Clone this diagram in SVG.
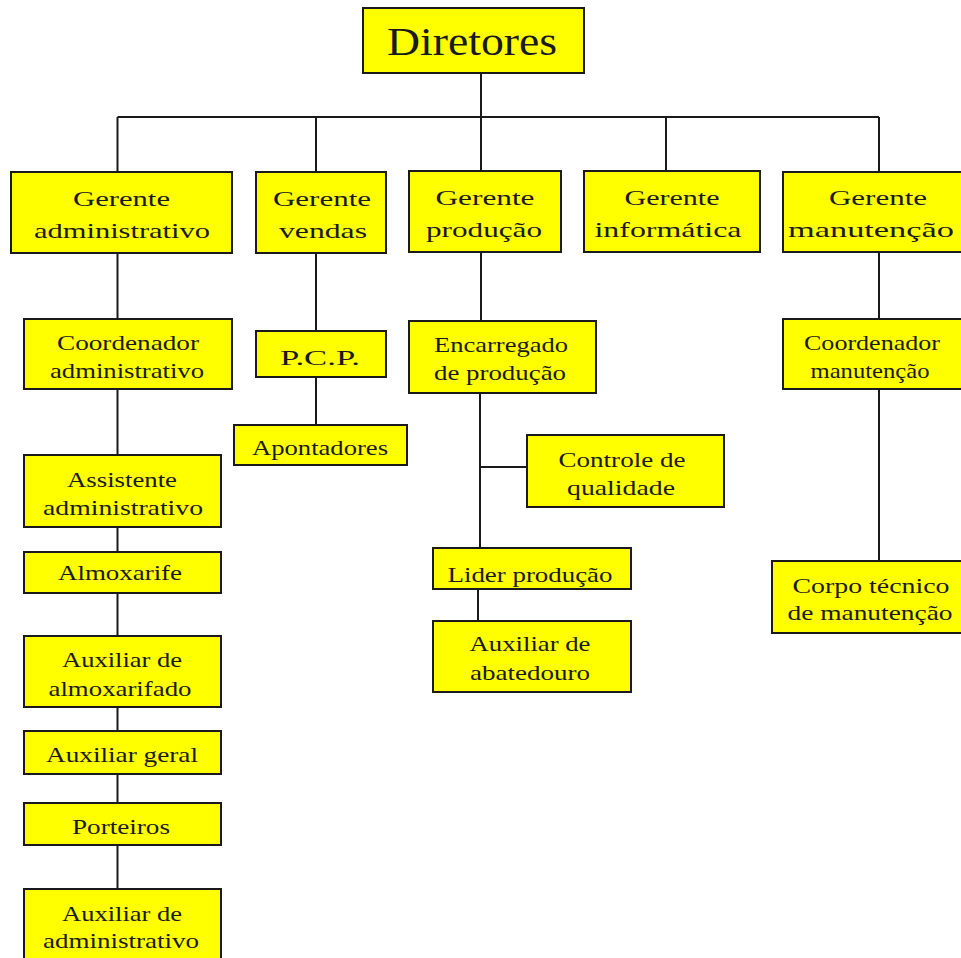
<svg xmlns="http://www.w3.org/2000/svg" width="961" height="958" viewBox="0 0 961 958">
<style>
.box{fill:#ffff00;stroke:#1a1a1a;stroke-width:2}
.ln{stroke:#1a1a1a;stroke-width:2;fill:none}
text{font-family:"Liberation Serif","Times New Roman",serif;font-size:22px;fill:#1a1a1a;text-anchor:middle}
.big{font-size:40px}
</style>
<rect width="961" height="958" fill="#ffffff"/>
<g id="connectors">
<path class="ln" d="M481 73V117M117.5 117H879M117.5 117V172M316 117V172M481 117V171M666 117V171M879 117V172"/>
<path class="ln" d="M117.5 253V319M117.5 389V455M117.5 527V552M117.5 593V636M117.5 707V731M117.5 774V803M117.5 845V889"/>
<path class="ln" d="M316 253V331M316 377V425"/>
<path class="ln" d="M481 252V321M480 393V548M480 467H527M478 589V621"/>
<path class="ln" d="M879 252V319M879 389V561"/>
</g>
<g id="diretores"><rect class="box" x="363" y="8" width="221" height="65"/><text class="big" x="472" y="55" textLength="170" lengthAdjust="spacingAndGlyphs">Diretores</text></g>
<g id="gerente-administrativo"><rect class="box" x="11" y="172" width="221" height="81"/><text x="121.5" y="206" textLength="97" lengthAdjust="spacingAndGlyphs">Gerente</text><text x="122" y="238" textLength="176" lengthAdjust="spacingAndGlyphs">administrativo</text></g>
<g id="gerente-vendas"><rect class="box" x="256" y="172" width="130" height="81"/><text x="322" y="206" textLength="98" lengthAdjust="spacingAndGlyphs">Gerente</text><text x="323" y="238" textLength="88" lengthAdjust="spacingAndGlyphs">vendas</text></g>
<g id="gerente-producao"><rect class="box" x="409" y="171" width="152" height="81"/><text x="485" y="205" textLength="99" lengthAdjust="spacingAndGlyphs">Gerente</text><text x="484" y="237" textLength="116" lengthAdjust="spacingAndGlyphs">produção</text></g>
<g id="gerente-informatica"><rect class="box" x="584" y="171" width="176" height="81"/><text x="672" y="205" textLength="95" lengthAdjust="spacingAndGlyphs">Gerente</text><text x="668" y="237" textLength="147" lengthAdjust="spacingAndGlyphs">informática</text></g>
<g id="gerente-manutencao"><rect class="box" x="783" y="172" width="180" height="80"/><text x="878" y="205" textLength="98" lengthAdjust="spacingAndGlyphs">Gerente</text><text x="871" y="237" textLength="166" lengthAdjust="spacingAndGlyphs">manutenção</text></g>
<g id="coordenador-administrativo"><rect class="box" x="24" y="319" width="208" height="70"/><text x="128" y="350" textLength="142" lengthAdjust="spacingAndGlyphs">Coordenador</text><text x="127" y="378" textLength="154" lengthAdjust="spacingAndGlyphs">administrativo</text></g>
<g id="pcp"><rect class="box" x="256" y="331" width="130" height="46"/><text x="320" y="365" textLength="80" lengthAdjust="spacingAndGlyphs">P.C.P.</text></g>
<g id="apontadores"><rect class="box" x="234" y="425" width="173" height="40"/><text x="320" y="455" textLength="136" lengthAdjust="spacingAndGlyphs">Apontadores</text></g>
<g id="encarregado-producao"><rect class="box" x="409" y="321" width="187" height="72"/><text x="501" y="352" textLength="134" lengthAdjust="spacingAndGlyphs">Encarregado</text><text x="500" y="380" textLength="132" lengthAdjust="spacingAndGlyphs">de produção</text></g>
<g id="controle-qualidade"><rect class="box" x="527" y="435" width="197" height="72"/><text x="622" y="467" textLength="127" lengthAdjust="spacingAndGlyphs">Controle de</text><text x="621" y="495" textLength="108" lengthAdjust="spacingAndGlyphs">qualidade</text></g>
<g id="coordenador-manutencao"><rect class="box" x="783" y="319" width="180" height="70"/><text x="872" y="350" textLength="136" lengthAdjust="spacingAndGlyphs">Coordenador</text><text x="870" y="378" textLength="119" lengthAdjust="spacingAndGlyphs">manutenção</text></g>
<g id="assistente-administrativo"><rect class="box" x="24" y="455" width="197" height="72"/><text x="122" y="487" textLength="110" lengthAdjust="spacingAndGlyphs">Assistente</text><text x="123" y="515" textLength="160" lengthAdjust="spacingAndGlyphs">administrativo</text></g>
<g id="almoxarife"><rect class="box" x="24" y="552" width="197" height="41"/><text x="120" y="580" textLength="124" lengthAdjust="spacingAndGlyphs">Almoxarife</text></g>
<g id="auxiliar-almoxarifado"><rect class="box" x="24" y="636" width="197" height="71"/><text x="122" y="667" textLength="120" lengthAdjust="spacingAndGlyphs">Auxiliar de</text><text x="120" y="696" textLength="143" lengthAdjust="spacingAndGlyphs">almoxarifado</text></g>
<g id="auxiliar-geral"><rect class="box" x="24" y="731" width="197" height="43"/><text x="122" y="762" textLength="152" lengthAdjust="spacingAndGlyphs">Auxiliar geral</text></g>
<g id="porteiros"><rect class="box" x="24" y="803" width="197" height="42"/><text x="121" y="834" textLength="98" lengthAdjust="spacingAndGlyphs">Porteiros</text></g>
<g id="auxiliar-administrativo"><rect class="box" x="24" y="889" width="197" height="72"/><text x="122" y="921" textLength="120" lengthAdjust="spacingAndGlyphs">Auxiliar de</text><text x="121" y="948" textLength="156" lengthAdjust="spacingAndGlyphs">administrativo</text></g>
<g id="lider-producao"><rect class="box" x="433" y="548" width="198" height="41"/><text x="530" y="582" textLength="165" lengthAdjust="spacingAndGlyphs">Lider produção</text></g>
<g id="auxiliar-abatedouro"><rect class="box" x="433" y="621" width="198" height="71"/><text x="530" y="651" textLength="121" lengthAdjust="spacingAndGlyphs">Auxiliar de</text><text x="530" y="680" textLength="120" lengthAdjust="spacingAndGlyphs">abatedouro</text></g>
<g id="corpo-tecnico"><rect class="box" x="772" y="561" width="191" height="72"/><text x="871" y="593" textLength="157" lengthAdjust="spacingAndGlyphs">Corpo técnico</text><text x="870" y="620" textLength="165" lengthAdjust="spacingAndGlyphs">de manutenção</text></g>
</svg>
